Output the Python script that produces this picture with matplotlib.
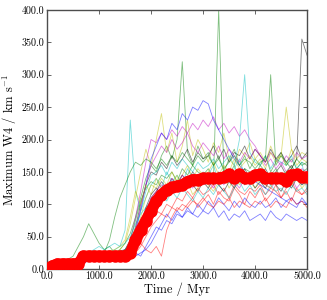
import numpy as np
import matplotlib
matplotlib.use("Agg")
import matplotlib.pyplot as plt
from matplotlib.ticker import FormatStrFormatter

# time axis (Myr), one sample every 100 Myr
time = np.arange(0, 5001, 100)

# maximum W4 for each run (km/s)
run01 = [0, 5, 8, 8, 10, 10, 10, 12, 12, 12, 15,
         15, 15, 15, 18, 18, 20, 25, 20, 35, 50,
         65, 60, 75, 70, 85, 80, 90, 85, 80, 90,
         85, 95, 80, 90, 75, 85, 80, 90, 75, 80,
         85, 75, 90, 80, 75, 85, 80, 75, 80, 75]
run02 = [0, 8, 10, 15, 15, 20, 35, 50, 70, 55, 40,
         30, 35, 25, 30, 40, 55, 80, 110, 140, 160,
         150, 175, 190, 170, 200, 320, 180, 160, 190, 170,
         180, 160, 175, 150, 170, 185, 160, 175, 155, 170,
         160, 175, 150, 165, 180, 160, 170, 155, 165, 160]
run03 = [0, 5, 8, 10, 10, 12, 10, 12, 15, 12, 15,
         15, 18, 15, 20, 18, 25, 30, 40, 30, 25,
         35, 20, 60, 80, 95, 90, 100, 110, 95, 105,
         115, 100, 120, 110, 105, 125, 115, 100, 120, 110,
         125, 105, 115, 130, 110, 120, 105, 125, 115, 120]
run04 = [0, 5, 10, 12, 12, 15, 15, 20, 25, 30, 35,
         30, 35, 40, 35, 60, 230, 120, 90, 110, 130,
         140, 125, 150, 135, 145, 130, 155, 140, 135, 150,
         145, 160, 135, 150, 140, 155, 170, 145, 150, 140,
         135, 150, 130, 145, 140, 125, 135, 145, 130, 140]
run05 = [0, 5, 8, 10, 10, 12, 12, 15, 15, 15, 18,
         18, 20, 22, 25, 30, 45, 80, 120, 165, 200,
         195, 210, 200, 215, 205, 220, 210, 225, 215, 230,
         220, 235, 215, 225, 210, 220, 205, 215, 200, 190,
         175, 160, 170, 155, 165, 150, 160, 145, 155, 150]
run06 = [0, 5, 10, 10, 12, 12, 15, 15, 18, 18, 20,
         20, 22, 25, 30, 40, 70, 110, 150, 185, 160,
         200, 240, 180, 210, 165, 190, 230, 175, 200, 185,
         165, 195, 180, 210, 170, 160, 185, 175, 195, 170,
         180, 165, 190, 170, 175, 160, 185, 170, 180, 175]
run07 = [0, 5, 10, 10, 12, 15, 15, 15, 18, 18, 20,
         20, 22, 25, 28, 30, 40, 65, 100, 130, 150,
         145, 165, 155, 175, 160, 170, 185, 165, 180, 170,
         175, 190, 170, 185, 165, 180, 175, 190, 170, 185,
         175, 165, 185, 170, 180, 165, 175, 190, 170, 180]
run08 = [0, 5, 8, 10, 10, 10, 12, 12, 12, 15, 15,
         15, 18, 20, 20, 25, 35, 60, 90, 130, 170,
         190, 210, 200, 225, 215, 240, 230, 250, 245, 260,
         255, 230, 215, 200, 185, 170, 160, 150, 140, 135,
         130, 125, 120, 115, 110, 105, 110, 100, 105, 100]
run09 = [0, 5, 10, 12, 12, 15, 15, 18, 18, 20, 20,
         22, 20, 25, 25, 30, 45, 75, 105, 125, 135,
         130, 145, 140, 150, 135, 155, 145, 160, 150, 145,
         155, 140, 400, 150, 145, 160, 140, 155, 150, 145,
         160, 150, 145, 155, 140, 150, 160, 145, 150, 155]
run10 = [0, 5, 8, 8, 10, 10, 10, 12, 12, 12, 15,
         15, 15, 18, 18, 20, 20, 25, 40, 60, 75,
         90, 85, 100, 95, 110, 105, 120, 110, 125, 115,
         120, 130, 115, 125, 110, 130, 120, 115, 125, 120,
         130, 115, 125, 120, 110, 125, 135, 120, 115, 125]
run11 = [0, 5, 8, 10, 12, 12, 15, 15, 15, 18, 18,
         20, 20, 25, 25, 30, 40, 55, 90, 120, 145,
         150, 160, 145, 165, 155, 170, 160, 150, 165, 155,
         160, 170, 155, 165, 175, 160, 200, 300, 180, 165,
         160, 175, 155, 170, 165, 160, 175, 155, 165, 120]
run12 = [0, 5, 8, 10, 10, 12, 12, 12, 15, 15, 15,
         18, 18, 20, 22, 25, 35, 60, 95, 130, 160,
         175, 190, 180, 200, 185, 195, 210, 190, 180, 195,
         185, 175, 190, 170, 185, 175, 165, 180, 170, 185,
         175, 165, 180, 170, 160, 175, 165, 180, 170, 175]
run13 = [0, 5, 10, 10, 12, 12, 15, 15, 15, 18, 18,
         20, 20, 22, 25, 28, 35, 55, 80, 110, 130,
         125, 140, 130, 150, 135, 145, 160, 140, 155, 145,
         150, 165, 145, 160, 150, 170, 155, 165, 175, 160,
         170, 155, 180, 165, 175, 250, 185, 160, 170, 165]
run14 = [0, 5, 8, 10, 10, 10, 12, 12, 15, 15, 15,
         15, 18, 18, 20, 22, 25, 35, 55, 85, 110,
         120, 135, 125, 140, 130, 145, 135, 150, 140, 135,
         145, 130, 150, 140, 135, 150, 145, 155, 140, 150,
         145, 155, 140, 150, 160, 145, 155, 170, 355, 330]
run15 = [0, 5, 8, 8, 10, 10, 10, 10, 12, 12, 12,
         12, 15, 15, 15, 18, 20, 20, 25, 30, 40,
         55, 70, 85, 75, 90, 80, 95, 85, 100, 90,
         105, 95, 110, 100, 90, 105, 95, 110, 100, 95,
         105, 95, 100, 110, 95, 105, 100, 95, 110, 100]
run16 = [0, 5, 8, 10, 12, 12, 15, 15, 18, 18, 20,
         25, 45, 80, 110, 130, 150, 165, 160, 170, 165,
         155, 170, 160, 175, 165, 180, 170, 160, 175, 165,
         175, 160, 170, 155, 165, 175, 160, 170, 165, 155,
         165, 170, 300, 160, 175, 165, 155, 170, 160, 165]
run17 = [0, 5, 8, 10, 10, 10, 12, 12, 12, 15, 15,
         15, 18, 18, 20, 20, 22, 25, 35, 50, 65,
         75, 85, 80, 95, 90, 100, 95, 105, 100, 110,
         100, 95, 105, 100, 110, 95, 105, 100, 95, 105,
         100, 110, 95, 105, 100, 95, 110, 100, 105, 95]
run18 = [0, 5, 8, 10, 10, 12, 12, 15, 15, 18, 20,
         22, 25, 30, 35, 40, 50, 70, 85, 95, 105,
         100, 115, 105, 120, 110, 125, 115, 105, 120, 110,
         125, 115, 130, 120, 110, 125, 135, 120, 130, 115,
         125, 115, 130, 120, 125, 115, 130, 120, 125, 115]
run19 = [0, 5, 8, 8, 10, 10, 12, 12, 12, 15, 15,
         15, 18, 18, 20, 22, 25, 40, 65, 90, 110,
         120, 130, 125, 140, 130, 145, 135, 125, 140, 130,
         135, 125, 140, 130, 145, 135, 125, 140, 130, 135,
         140, 130, 125, 135, 145, 130, 140, 125, 135, 130]
run20 = [0, 5, 8, 10, 12, 15, 15, 18, 20, 20, 22,
         25, 28, 30, 35, 45, 80, 120, 100, 130, 115,
         140, 125, 110, 130, 145, 120, 135, 115, 125, 140,
         130, 120, 135, 145, 125, 140, 130, 150, 135, 125,
         140, 130, 125, 145, 135, 150, 130, 140, 125, 135]
run21 = [0, 5, 8, 10, 10, 12, 12, 15, 15, 15, 18,
         18, 20, 20, 22, 25, 30, 45, 70, 95, 115,
         125, 115, 130, 120, 135, 125, 140, 130, 120, 135,
         125, 140, 130, 120, 135, 125, 145, 130, 140, 125,
         135, 125, 140, 130, 120, 135, 125, 140, 130, 135]

# average over all runs (thick red curve)
mean_w4 = [0, 5, 8, 8, 8, 8, 8, 20, 20, 20, 20,
           20, 20, 20, 20, 20, 25, 45, 60, 75, 90,
           105, 115, 122, 126, 128, 130, 135, 138, 138, 140,
           140, 140, 140, 142, 146, 140, 146, 140, 140, 145,
           146, 140, 140, 140, 140, 136, 145, 146, 142, 142]

runs = [run01, run02, run03, run04, run05, run06, run07, run08, run09, run10,
        run11, run12, run13, run14, run15, run16, run17, run18, run19, run20,
        run21]
colours = ['b', 'g', 'r', 'c', 'm', 'y', 'k']

plt.rcParams['font.family'] = 'cmr10'
plt.rcParams['mathtext.fontset'] = 'cm'
plt.rcParams['axes.formatter.use_mathtext'] = True

fig = plt.figure(figsize=(3.27, 3.0), dpi=100)
ax = fig.add_axes([0.144, 0.103, 0.795, 0.864])

for i, run in enumerate(runs):
    ax.plot(time, run, color=colours[i % 7], lw=0.6, alpha=0.5)

ax.plot(time, mean_w4, color='r', lw=8, marker='o', ms=8, mec='r', zorder=5)

ax.set_xlim(0, 5000)
ax.set_ylim(0, 400)
ax.set_xticks([0, 1000, 2000, 3000, 4000, 5000])
ax.set_yticks([0, 50, 100, 150, 200, 250, 300, 350, 400])
ax.xaxis.set_major_formatter(FormatStrFormatter('%.1f'))
ax.yaxis.set_major_formatter(FormatStrFormatter('%.1f'))
ax.tick_params(direction='in', top=True, right=True, labelsize=7.2,
               length=3, width=0.6, color='0.3', pad=2)
for s in ax.spines.values():
    s.set_color('0.3')
    s.set_linewidth(1.0)

ax.set_xlabel('Time / Myr', fontsize=9, labelpad=1)
ax.set_ylabel(r'Maximum W4 / km s$^{-1}$', fontsize=9, labelpad=2)

fig.savefig('out.png', dpi=100)
